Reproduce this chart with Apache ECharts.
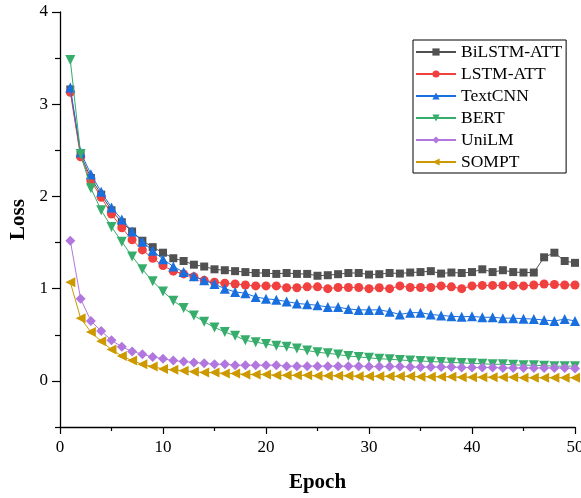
<!DOCTYPE html>
<html><head><meta charset="utf-8">
<script src="https://cdn.jsdelivr.net/npm/echarts@6/dist/echarts.min.js"></script>
<style>html,body{margin:0;padding:0;background:#fff}#c{width:581px;height:498px}</style>
</head><body><div id="c"></div>
<script>
const epochs = Array.from({length: 50}, (_, i) => i + 1);
const seriesNames = ['BiLSTM-ATT', 'LSTM-ATT', 'TextCNN', 'BERT', 'UniLM', 'SOMPT'];
const bilstmAtt = [3.16,2.45,2.20,2.02,1.85,1.72,1.62,1.52,1.45,1.39,1.33,1.30,1.26,1.24,1.21,1.20,1.19,1.18,1.17,1.17,1.16,1.17,1.16,1.16,1.14,1.146,1.157,1.17,1.17,1.153,1.157,1.17,1.164,1.175,1.18,1.19,1.164,1.175,1.17,1.18,1.21,1.18,1.20,1.18,1.175,1.175,1.34,1.39,1.30,1.28];
const lstmAtt = [3.13,2.43,2.17,1.99,1.81,1.66,1.53,1.42,1.33,1.25,1.19,1.16,1.13,1.09,1.07,1.06,1.05,1.04,1.03,1.03,1.03,1.01,1.01,1.02,1.02,1.00,1.013,1.013,1.013,1.00,1.01,1.00,1.03,1.013,1.013,1.013,1.03,1.02,1.00,1.03,1.035,1.035,1.035,1.035,1.03,1.04,1.05,1.045,1.04,1.04];
const textCnn = [3.18,2.48,2.24,2.05,1.88,1.75,1.62,1.51,1.41,1.32,1.24,1.18,1.135,1.09,1.05,1.00,0.965,0.95,0.91,0.89,0.88,0.86,0.84,0.83,0.82,0.80,0.80,0.78,0.77,0.77,0.77,0.75,0.72,0.74,0.74,0.72,0.71,0.70,0.695,0.70,0.69,0.69,0.68,0.68,0.675,0.67,0.66,0.65,0.67,0.65];
const bert = [3.48,2.46,2.09,1.85,1.67,1.51,1.35,1.21,1.08,0.97,0.87,0.79,0.71,0.64,0.58,0.53,0.49,0.44,0.42,0.40,0.38,0.37,0.35,0.33,0.31,0.30,0.285,0.27,0.26,0.25,0.24,0.235,0.227,0.22,0.216,0.21,0.205,0.20,0.195,0.19,0.185,0.18,0.18,0.175,0.17,0.17,0.165,0.16,0.16,0.16];
const unilm = [1.52,0.89,0.65,0.54,0.44,0.37,0.32,0.29,0.26,0.24,0.22,0.21,0.20,0.19,0.18,0.18,0.17,0.17,0.17,0.17,0.17,0.16,0.16,0.16,0.16,0.16,0.16,0.16,0.16,0.155,0.155,0.155,0.155,0.15,0.15,0.15,0.15,0.15,0.145,0.145,0.145,0.145,0.14,0.14,0.14,0.14,0.14,0.14,0.14,0.135];
const sompt = [1.07,0.68,0.53,0.43,0.34,0.27,0.22,0.18,0.155,0.13,0.12,0.11,0.10,0.09,0.09,0.08,0.08,0.07,0.07,0.07,0.06,0.06,0.06,0.06,0.055,0.055,0.055,0.055,0.05,0.05,0.05,0.05,0.05,0.05,0.045,0.045,0.045,0.045,0.04,0.04,0.04,0.04,0.04,0.04,0.035,0.035,0.035,0.035,0.035,0.035];
const xTicks = [0, 10, 20, 30, 40, 50];
const yTicks = [0, 1, 2, 3, 4];
const yMinorTicks = [-0.5, 0.5, 1.5, 2.5, 3.5];

const values = [bilstmAtt, lstmAtt, textCnn, bert, unilm, sompt];
const colors = ['#515151', '#F14040', '#1A6FDF', '#37AD6B', '#B177DE', '#CC9900'];
const DIAMOND = 'path://M0,-1L1,0L0,1L-1,0Z';
const symbols = ['rect', 'circle', 'triangle', 'triangle', DIAMOND, 'triangle'];
const rotates = [0, 0, 0, 180, 0, 90];
const sizes = [8, 9, 10, 10, 10, 10];
const FONT = '"Liberation Serif", "Times New Roman", serif';

const chart = echarts.init(document.getElementById('c'), null, {renderer: 'canvas'});
chart.setOption({
  animation: false,
  backgroundColor: '#fff',
  grid: {left: 60, right: 6, top: 12, bottom: 71, containLabel: false, outerBoundsMode: 'none'},
  legend: {
    left: 413, top: 40, orient: 'vertical',
    itemWidth: 40, itemHeight: 9, itemGap: 4,
    padding: [3, 4, 2, 2],
    borderColor: '#000', borderWidth: 1,
    textStyle: {fontFamily: FONT, fontSize: 17.5, color: '#000', lineHeight: 17, padding: [0,0,0,0]},
    data: seriesNames
  },
  xAxis: {
    type: 'value', min: 0, max: 50, interval: 10,
    name: 'Epoch', nameLocation: 'middle', nameGap: 45,
    nameTextStyle: {fontFamily: FONT, fontSize: 21, fontWeight: 'bold', color: '#000'},
    axisLine: {show: true, onZero: false, lineStyle: {color: '#000', width: 1.3}},
    axisTick: {show: true, inside: false, length: 7, lineStyle: {color: '#000', width: 1.2}},
    minorTick: {show: true, splitNumber: 2, length: 4, lineStyle: {color: '#000', width: 1.2}},
    axisLabel: {fontFamily: FONT, fontSize: 17, color: '#000', margin: 12,
      customValues: xTicks},
    splitLine: {show: false}
  },
  yAxis: [{
    type: 'value', min: -0.5, max: 4, interval: 0.5,
    name: 'Loss', nameLocation: 'middle', nameGap: 31, nameRotate: 90,
    nameTextStyle: {fontFamily: FONT, fontSize: 21, fontWeight: 'bold', color: '#000'},
    axisLine: {show: true, onZero: false, lineStyle: {color: '#000', width: 1.3}},
    axisTick: {show: true, inside: false, length: 8, customValues: yTicks, lineStyle: {color: '#000', width: 1.2}},
    axisLabel: {fontFamily: FONT, fontSize: 17, color: '#000', margin: 12, customValues: yTicks},
    splitLine: {show: false}
  }, {
    type: 'value', min: -0.5, max: 4, interval: 0.5, position: 'left',
    axisLine: {show: false},
    axisTick: {show: true, inside: false, length: 5, customValues: yMinorTicks, lineStyle: {color: '#000', width: 1.2}},
    axisLabel: {show: false},
    splitLine: {show: false}
  }],
  series: seriesNames.map((name, i) => ({
    name: name, type: 'line',
    data: epochs.map((e, j) => [e, values[i][j]]),
    symbol: symbols[i], symbolRotate: rotates[i], symbolSize: sizes[i],
    showAllSymbol: true,
    itemStyle: {color: colors[i]},
    lineStyle: {color: colors[i], width: 1},
    z: 2 + i
  }))
});
</script></body></html>
